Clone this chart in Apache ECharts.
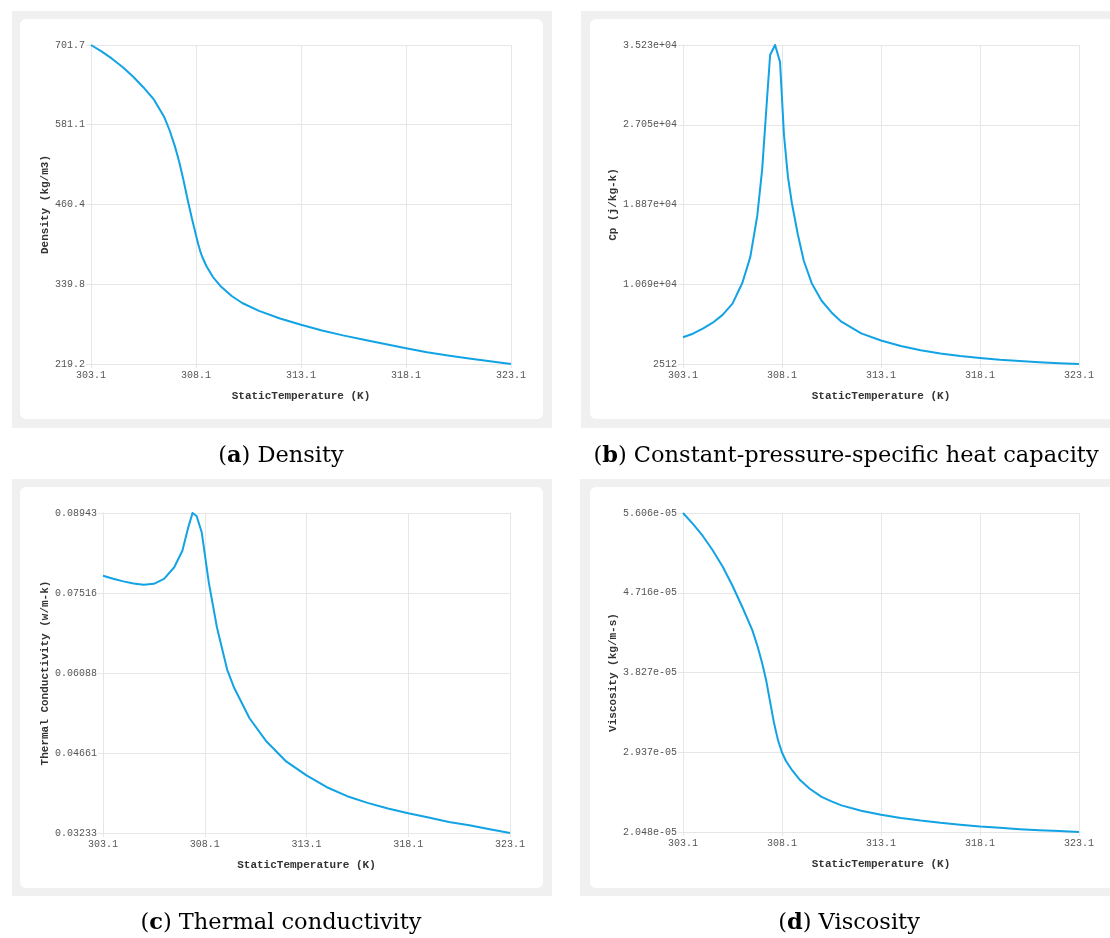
<!DOCTYPE html>
<html>
<head>
<meta charset="utf-8">
<style>
html,body{margin:0;padding:0;background:#ffffff;}
#chart{width:1110px;height:938px;}
</style>
<script src="https://cdn.jsdelivr.net/npm/echarts@6/dist/echarts.min.js"></script>
</head>
<body>
<div id="chart"></div>
<script>
// ---------- data ----------
const xTicks = [303.1, 308.1, 313.1, 318.1, 323.1];

// (a) Density
const tA = [303.1,303.6,304.1,304.6,305.1,305.6,306.1,306.6,306.85,307.1,307.3,307.5,307.7,307.9,308.1,308.2,308.3,308.4,308.6,308.9,309.3,309.8,310.3,311.1,312.1,313.1,314.1,315.1,316.1,317.1,318.1,319.1,320.1,321.1,322.1,323.1];
const rhoA = [701.7,692,681,668.5,654,637.5,619,592,572,548,525,498,468,440,414,401,390,381,367,351,336,322,311.5,299.5,288,278.5,270,262.5,256,249.5,243,237,232,227.5,223.5,219.2];
const yTicksA = [219.2, 339.8, 460.4, 581.1, 701.7];
const yLabelsA = ['219.2', '339.8', '460.4', '581.1', '701.7'];

// (b) Cp
const tB = [303.1,303.6,304.1,304.6,305.1,305.6,306.1,306.5,306.85,307.1,307.35,307.5,307.75,308.0,308.2,308.4,308.6,308.9,309.2,309.6,310.1,310.6,311.1,312.1,313.1,314.1,315.1,316.1,317.1,318.1,319.1,320.1,321.1,322.1,323.1];
const cpB = [5250,5620,6130,6750,7550,8700,10850,13500,17700,22500,29900,34200,35230,33500,26000,21700,19000,15800,13100,10800,9000,7800,6850,5650,4920,4350,3920,3600,3340,3130,2950,2820,2700,2600,2512];
const yTicksB = [2512, 10690, 18870, 27050, 35230];
const yLabelsB = ['2512', '1.069e+04', '1.887e+04', '2.705e+04', '3.523e+04'];

// (c) Thermal conductivity
const tC = [303.1,303.6,304.1,304.6,305.1,305.6,306.1,306.6,307.0,307.3,307.5,307.7,307.95,308.3,308.7,309.2,309.55,310.3,311.1,312.1,313.1,314.1,315.1,316.1,317.1,318.1,319.1,320.1,321.1,322.1,323.1];
const kC = [0.07824,0.07770,0.07723,0.07685,0.07664,0.07680,0.07768,0.07975,0.08270,0.08700,0.08943,0.08890,0.08600,0.07700,0.06900,0.06150,0.05820,0.05280,0.04880,0.04510,0.04260,0.04050,0.03890,0.03770,0.03670,0.03585,0.03510,0.03430,0.03370,0.03300,0.03233];
const yTicksC = [0.03233, 0.04661, 0.06088, 0.07516, 0.08943];
const yLabelsC = ['0.03233', '0.04661', '0.06088', '0.07516', '0.08943'];

// (d) Viscosity
const tD = [303.1,303.6,304.1,304.6,305.1,305.6,306.1,306.6,306.85,307.1,307.3,307.5,307.7,307.9,308.1,308.3,308.6,309.0,309.5,310.1,310.6,311.1,312.1,313.1,314.1,315.1,316.1,317.1,318.1,319.1,320.1,321.1,322.1,323.1];
const muD = [5.606e-5,5.485e-5,5.35e-5,5.19e-5,5.01e-5,4.795e-5,4.555e-5,4.30e-5,4.13e-5,3.93e-5,3.74e-5,3.50e-5,3.26e-5,3.07e-5,2.935e-5,2.84e-5,2.74e-5,2.63e-5,2.53e-5,2.44e-5,2.39e-5,2.345e-5,2.285e-5,2.24e-5,2.205e-5,2.175e-5,2.15e-5,2.13e-5,2.11e-5,2.095e-5,2.08e-5,2.068e-5,2.058e-5,2.048e-5];
const yTicksD = [2.048e-5, 2.937e-5, 3.827e-5, 4.716e-5, 5.606e-5];
const yLabelsD = ['2.048e-05', '2.937e-05', '3.827e-05', '4.716e-05', '5.606e-05'];

const xName = 'StaticTemperature (K)';
const yNames = ['Density (kg/m3)', 'Cp (j/kg-k)', 'Thermal Conductivity (w/m-k)', 'Viscosity (kg/m-s)'];
const captions = [['a', ' Density'], ['b', ' Constant-pressure-specific heat capacity'], ['c', ' Thermal conductivity'], ['d', ' Viscosity']];

// ---------- layout ----------
const grids = [
  {left: 91, top: 45, width: 420, height: 319},
  {left: 683, top: 45, width: 396, height: 319},
  {left: 103, top: 513, width: 407, height: 320},
  {left: 683, top: 513, width: 396, height: 319}
];
const nameGaps = [38, 58, 50, 58];
const yTickSets = [yTicksA, yTicksB, yTicksC, yTicksD];
const yLabelSets = [yLabelsA, yLabelsB, yLabelsC, yLabelsD];
const seriesData = [
  tA.map((t, i) => [t, rhoA[i]]),
  tB.map((t, i) => [t, cpB[i]]),
  tC.map((t, i) => [t, kC[i]]),
  tD.map((t, i) => [t, muD[i]])
];

const gridColor = '#e6e6e6';
const monoFont = 'Liberation Mono';
const lineColor = '#12a3e4';

function labelFor(ticks, labels) {
  return function (v) {
    let best = 0, bd = Infinity;
    for (let i = 0; i < ticks.length; i++) {
      const d = Math.abs(ticks[i] - v);
      if (d < bd) { bd = d; best = i; }
    }
    return labels[best];
  };
}

const xAxes = [], yAxes = [], series = [];
for (let i = 0; i < 4; i++) {
  xAxes.push({
    type: 'value', gridIndex: i, min: xTicks[0], max: xTicks[xTicks.length - 1],
    name: xName, nameLocation: 'middle', nameGap: 27,
    nameTextStyle: {fontFamily: monoFont, fontWeight: 'bold', fontSize: 11, color: '#333'},
    axisLine: {show: true, lineStyle: {color: gridColor, width: 1}},
    axisTick: {show: true, length: 4, lineStyle: {color: gridColor}, customValues: xTicks},
    axisLabel: {customValues: xTicks, margin: 6, fontFamily: monoFont, fontSize: 10, color: '#555',
      formatter: v => v.toFixed(1)},
    splitLine: {show: true, lineStyle: {color: gridColor, width: 1}}
  });
  const yt = yTickSets[i];
  yAxes.push({
    type: 'value', gridIndex: i, min: yt[0], max: yt[yt.length - 1],
    name: yNames[i], nameLocation: 'middle', nameGap: nameGaps[i], nameRotate: 90,
    nameTextStyle: {fontFamily: monoFont, fontWeight: 'bold', fontSize: 11, color: '#333'},
    axisLine: {show: true, lineStyle: {color: gridColor, width: 1}},
    axisTick: {show: true, length: 5, lineStyle: {color: gridColor}, customValues: yt},
    axisLabel: {customValues: yt, margin: 6, fontFamily: monoFont, fontSize: 10, color: '#555',
      formatter: labelFor(yt, yLabelSets[i])},
    splitLine: {show: true, lineStyle: {color: gridColor, width: 1}}
  });
  series.push({
    type: 'line', xAxisIndex: i, yAxisIndex: i, data: seriesData[i],
    showSymbol: false, symbol: 'none', smooth: false,
    lineStyle: {color: lineColor, width: 2, join: 'round'}, animation: false
  });
}

// backgrounds & captions
const panels = [
  {gx: 12, gy: 11, gw: 540, gh: 417, cx: 20, cy: 19, cw: 523, ch: 400},
  {gx: 581, gy: 11, gw: 540, gh: 417, cx: 590, cy: 19, cw: 530, ch: 400},
  {gx: 12, gy: 479, gw: 540, gh: 417, cx: 20, cy: 487, cw: 523, ch: 401},
  {gx: 580, gy: 479, gw: 540, gh: 417, cx: 590, cy: 487, cw: 530, ch: 401}
];
const capPos = [[281, 456], [846, 456], [281, 923], [849, 923]];
const capFont = 'DejaVu Serif';
const graphics = [];
panels.forEach(p => {
  graphics.push({type: 'rect', z: -100, silent: true, shape: {x: p.gx, y: p.gy, width: p.gw, height: p.gh}, style: {fill: '#f0f0f0'}});
  graphics.push({type: 'rect', z: -99, silent: true, shape: {x: p.cx, y: p.cy, width: p.cw, height: p.ch, r: 6}, style: {fill: '#ffffff'}});
});
captions.forEach((c, i) => {
  graphics.push({
    type: 'text', z: 10, silent: true, x: capPos[i][0], y: capPos[i][1],
    style: {
      text: '{n|(}{b|' + c[0] + '}{n|)' + c[1] + '}',
      align: 'center', verticalAlign: 'middle',
      rich: {
        n: {fontFamily: capFont, fontSize: 22.5, fill: '#000', fontWeight: 'normal'},
        b: {fontFamily: capFont, fontSize: 22.5, fill: '#000', fontWeight: 'bold'}
      }
    }
  });
});

const chart = echarts.init(document.getElementById('chart'), null, {renderer: 'canvas'});
chart.setOption({
  backgroundColor: '#ffffff',
  animation: false,
  grid: grids,
  xAxis: xAxes,
  yAxis: yAxes,
  series: series,
  graphic: {elements: graphics}
});
</script>
</body>
</html>
